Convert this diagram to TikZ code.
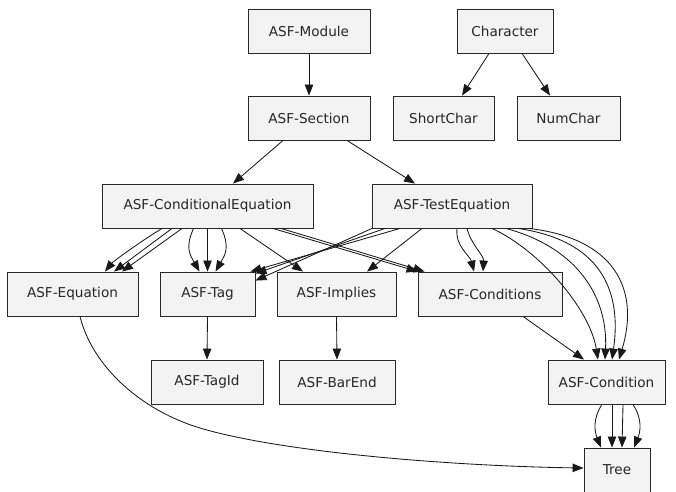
\documentclass[tikz,border=0pt]{standalone}
\usepackage{fontspec}
\setmainfont{DejaVu Sans}
\usetikzlibrary{arrows.meta,calc}
\definecolor{boxfill}{RGB}{243,243,243}
\definecolor{boxline}{RGB}{40,40,40}
\begin{document}
\begin{tikzpicture}[x=1pt,y=-1pt,
  box/.style={draw=boxline,fill=boxfill,line width=0.9pt,minimum height=44pt,inner sep=0pt,
              font=\fontsize{13.6}{16}\selectfont,text=black!85},
  arr/.style={-{Triangle[length=11pt,width=8.5pt]},line width=0.85pt,black!90}]
\useasboundingbox (0,0) rectangle (676,491);
% nodes
\node[box,minimum width=122pt] (mod) at (309,31) {ASF-Module};
\node[box,minimum width=96pt]  (chr) at (505,31) {Character};
\node[box,minimum width=122pt] (sec) at (309,118) {ASF-Section};
\node[box,minimum width=101pt] (sc)  at (443.5,118) {ShortChar};
\node[box,minimum width=103pt] (nc)  at (568.5,118) {NumChar};
\node[box,minimum width=211pt] (ce)  at (207.5,206) {ASF-ConditionalEquation};
\node[box,minimum width=160pt] (te)  at (452,206) {ASF-TestEquation};
\node[box,minimum width=131pt] (eq)  at (72.5,294) {ASF-Equation};
\node[box,minimum width=95pt]  (tag) at (207.5,294) {ASF-Tag};
\node[box,minimum width=119pt] (im)  at (336.5,294) {ASF-Implies};
\node[box,minimum width=144pt] (cs)  at (490,294) {ASF-Conditions};
\node[box,minimum width=112pt] (tid) at (207,382) {ASF-TagId};
\node[box,minimum width=116pt] (be)  at (337,382) {ASF-BarEnd};
\node[box,minimum width=117pt] (cn)  at (606.5,382) {ASF-Condition};
\node[box,minimum width=66pt]  (tr)  at (617,470) {Tree};
\coordinate (bendpt) at (200,428);
% edges
\draw[arr] (mod.south) -- (sec.north);
\draw[arr] ($(chr.south)+(-16,0)$) -- ($(sc.north)+(18.5,0)$);
\draw[arr] ($(chr.south)+(17,0)$) -- ($(nc.north)+(-18.5,0)$);
\draw[arr] ($(sec.south)+(-26,0)$) -- ($(ce.north)+(25.5,0)$);
\draw[arr] ($(sec.south)+(38,0)$) -- ($(te.north)+(-37,0)$);
% CondEq -> Equation (3)
\draw[arr] ($(ce.south)+(-45.5,0)$) .. controls +(-20,12) and +(8,-10) .. ($(eq.north)+(32.5,0)$);
\draw[arr] ($(ce.south)+(-35.5,0)$) -- ($(eq.north)+(41.5,0)$);
\draw[arr] ($(ce.south)+(-25.5,0)$) -- ($(eq.north)+(49.5,0)$);
% CondEq -> Tag (3)
\draw[arr] (ce.south) -- (tag.north);
\draw[arr] ($(ce.south)+(-14,0)$) .. controls +(-9,20) and +(-9,-16) .. ($(tag.north)+(-8,0)$);
\draw[arr] ($(ce.south)+(14,0)$) .. controls +(9,20) and +(9,-16) .. ($(tag.north)+(8,0)$);
% CondEq -> Implies
\draw[arr] ($(ce.south)+(32.5,0)$) -- ($(im.north)+(-33.5,0)$);
% CondEq -> Conditions (2)
\draw[arr] ($(ce.south)+(65.5,0)$) -- ($(cs.north west)+(0,0)$);
\draw[arr] ($(ce.south)+(73.5,0)$) -- ($(cs.north west)+(7,0)$);
% TestEq -> Tag (3)
\draw[arr] ($(te.south)+(-80,0)$) -- ($(tag.north east)+(0,9)$);
\draw[arr] ($(te.south)+(-67,0)$) -- ($(tag.north east)+(0,2)$);
\draw[arr] ($(te.south)+(-52,0)$) -- ($(tag.north east)+(-5,0)$);
% TestEq -> Implies
\draw[arr] ($(te.south)+(-30,0)$) -- ($(im.north)+(30.5,0)$);
% TestEq -> Conditions (2)
\draw[arr] ($(te.south)+(5,0)$) .. controls +(-2,18) and +(-4,-16) .. ($(cs.north)+(-16,0)$);
\draw[arr] ($(te.south)+(15,0)$) .. controls +(4,16) and +(1,-16) .. ($(cs.north)+(-7,0)$);
% TestEq -> Condition (4)
\draw[arr] ($(te.south)+(40,0)$) .. controls +(48,22) and +(-8,-50) .. ($(cn.north)+(-8.5,0)$);
\draw[arr] ($(te.south)+(54,0)$) .. controls +(74,20) and +(3,-60) .. ($(cn.north)+(-1.5,0)$);
\draw[arr] ($(te.south)+(66,0)$) .. controls +(82,12) and +(10,-70) .. ($(cn.north)+(5.5,0)$);
\draw[arr] ($(te.south)+(77,0)$) .. controls +(86,10) and +(21,-70) .. ($(cn.north)+(12.5,0)$);
% Conditions -> Condition
\draw[arr] ($(cs.south)+(33,0)$) -- ($(cn.north)+(-22.5,0)$);
% Tag -> TagId, Implies -> BarEnd
\draw[arr] (tag.south) -- (tid.north);
\draw[arr] (im.south) -- (be.north);
% Equation -> Tree
\draw[arr] ($(eq.south)+(7.5,0)$) .. controls +(12,49) and +(-60,-18) .. (bendpt)
           .. controls +(80,24) and +(-134,-2) .. ($(tr.west)+(0,-2)$);
% Condition -> Tree (4)
\draw[arr] ($(cn.south)+(-4.5,0)$) .. controls +(-10,15) and +(-6,-15) .. ($(tr.north)+(-16,0)$);
\draw[arr] ($(cn.south)+(5.5,0)$) -- ($(tr.north)+(-5,0)$);
\draw[arr] ($(cn.south)+(16.5,0)$) -- ($(tr.north)+(5,0)$);
\draw[arr] ($(cn.south)+(26.5,0)$) .. controls +(10,15) and +(6,-15) .. ($(tr.north)+(17,0)$);
\end{tikzpicture}
\end{document}
